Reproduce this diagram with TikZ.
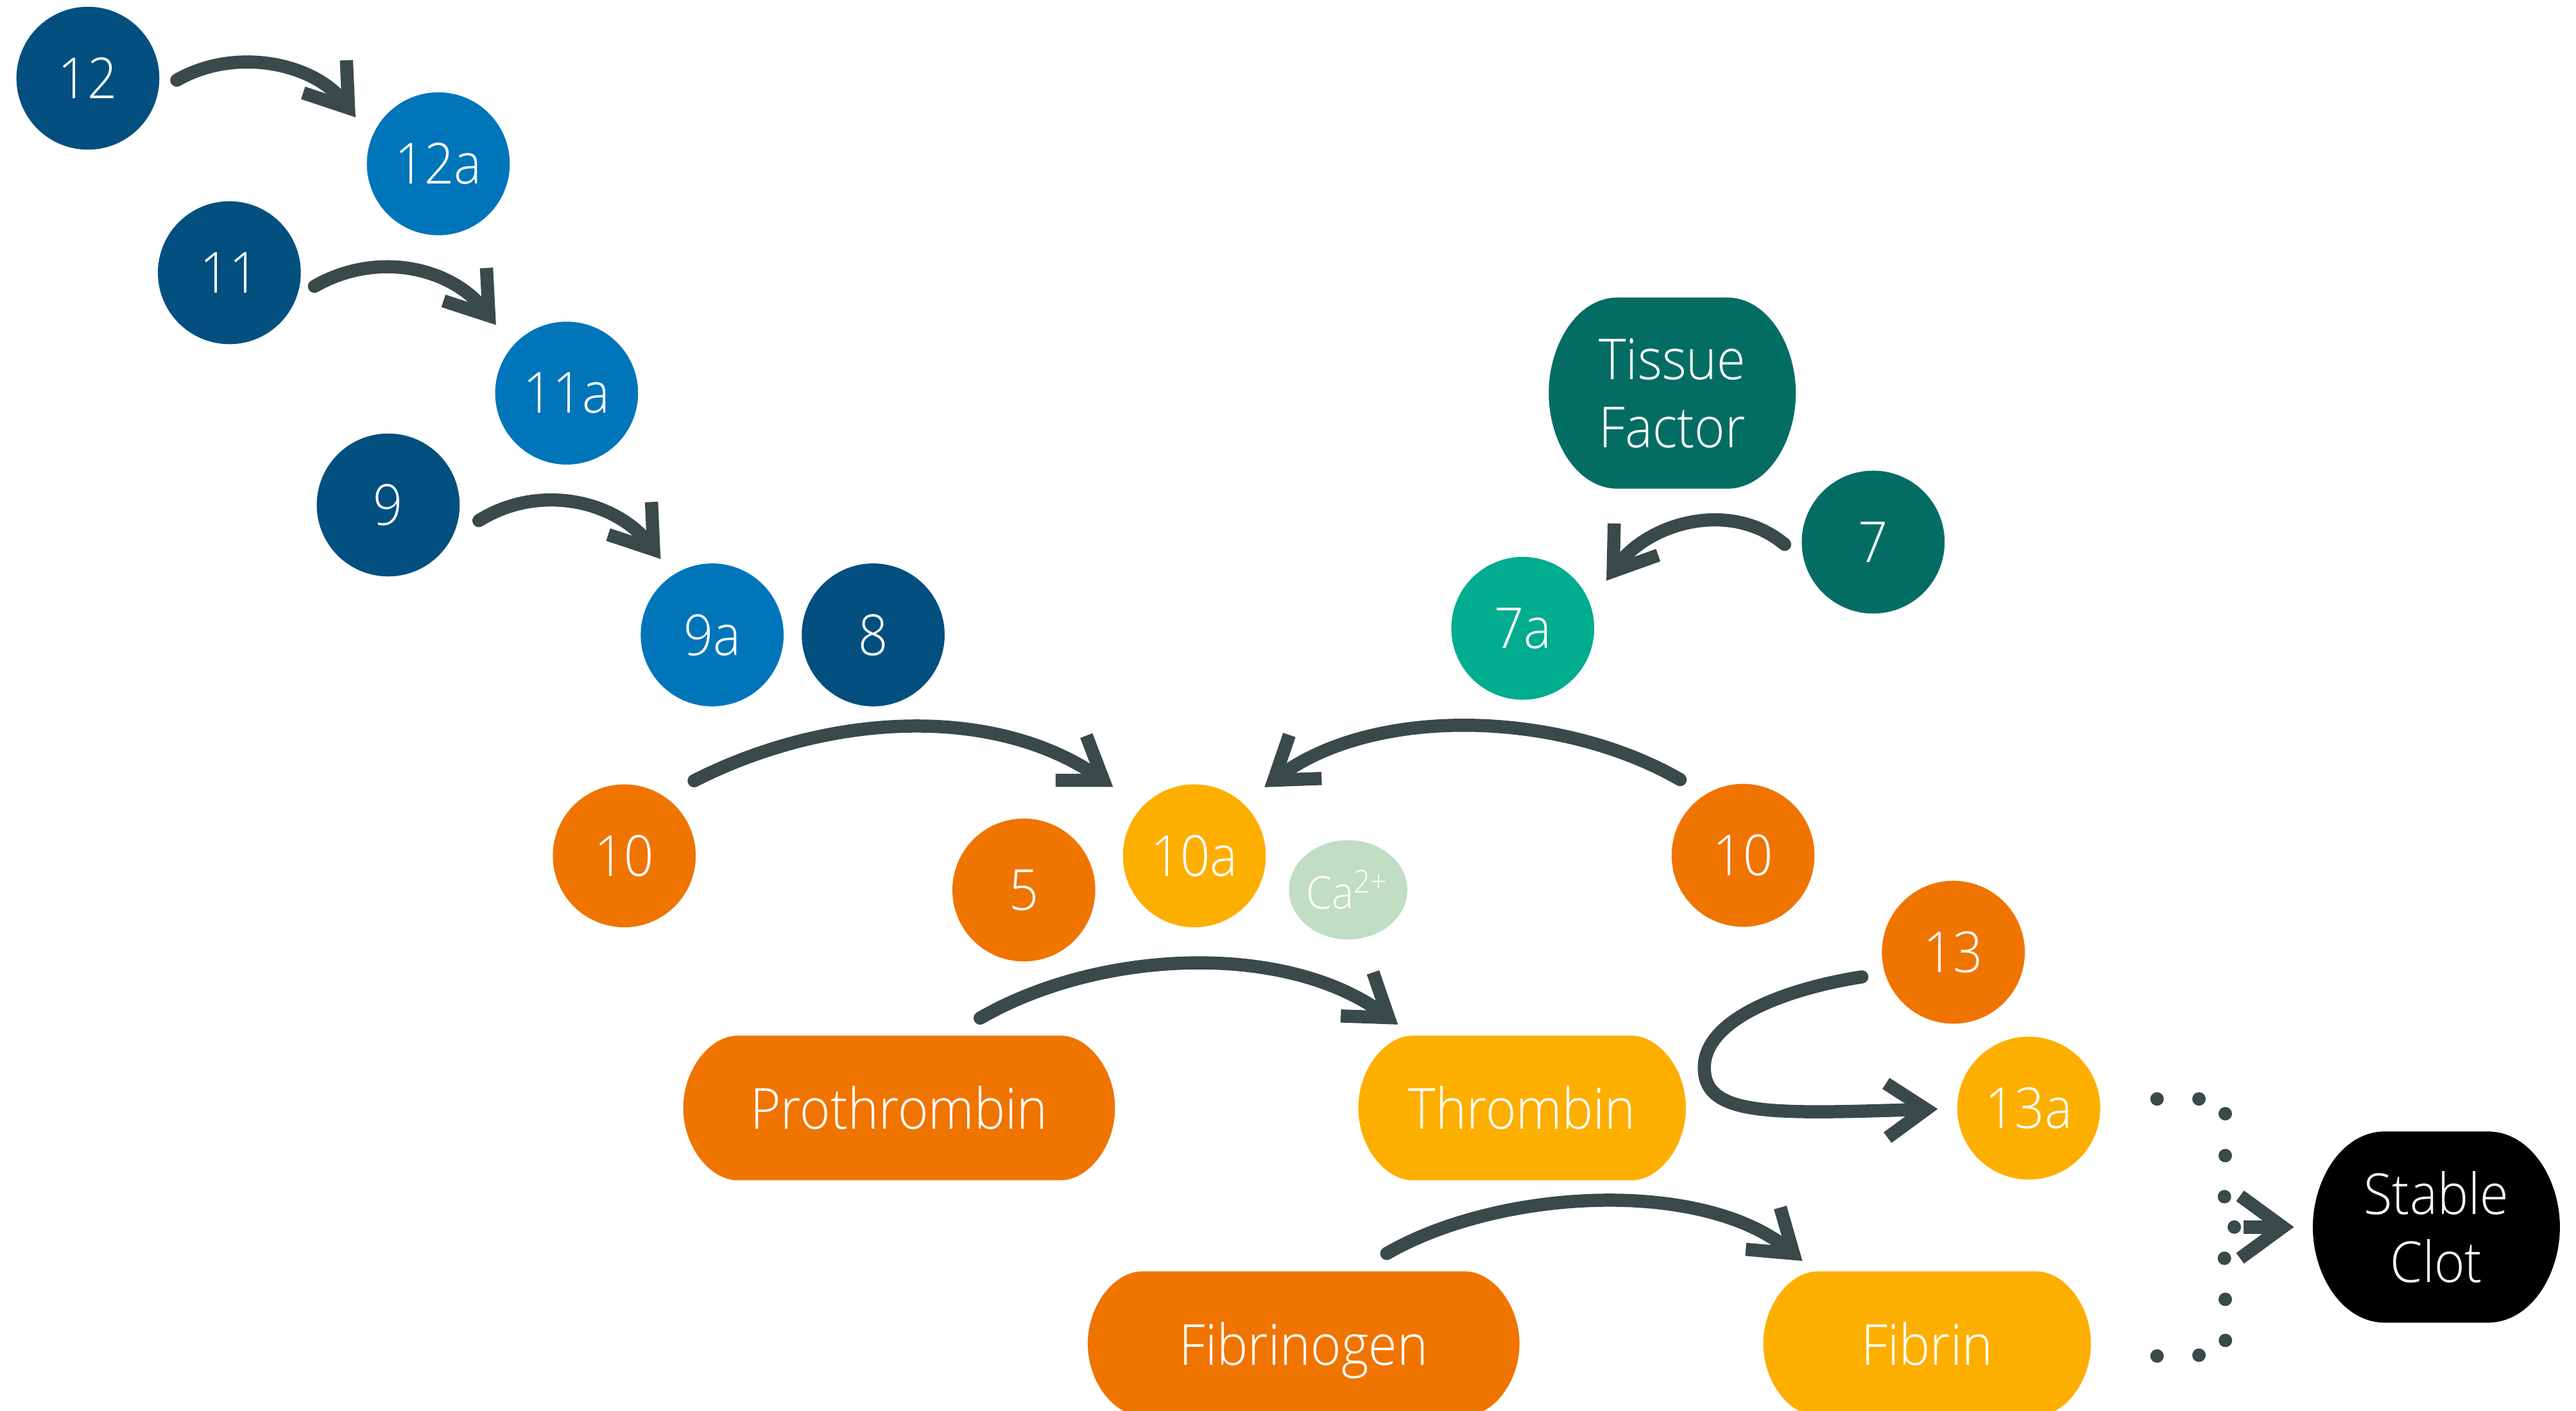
\documentclass[tikz,border=0pt]{standalone}
\usepackage{fontspec}
\IfFontExistsTF{Open Sans Light}
  {\setmainfont{Open Sans Light}[FakeStretch=0.92]}
  {\setmainfont{Open Sans}[FakeStretch=0.92]}
\usetikzlibrary{arrows.meta,calc,shapes.geometric,backgrounds}

\definecolor{navy}{HTML}{024F80}
\definecolor{ocean}{HTML}{0075BA}
\definecolor{pine}{HTML}{036D64}
\definecolor{jade}{HTML}{02AC8E}
\definecolor{tangerine}{HTML}{F07400}
\definecolor{amber}{HTML}{FDAF00}
\definecolor{mint}{HTML}{C1DDC4}
\definecolor{slate}{HTML}{3A4949}

% Soft barrel-shaped fill behind a rectangular node:
% #1 node, #2 colour, #3 horizontal inset of the flat edges, #4 half height,
% #5 pull of the corner controls along the flat edge, #6 along the side
\newcommand{\blobfill}[6]{%
  \fill[#2] ($(#1.north west)+(#3,0)$) -- ($(#1.north east)+(-#3,0)$)
    .. controls +(#5*#3,0) and +(0,-#6*#4) .. (#1.east)
    .. controls +(0,#6*#4) and +(#5*#3,0) .. ($(#1.south east)+(-#3,0)$)
    -- ($(#1.south west)+(#3,0)$)
    .. controls +(-#5*#3,0) and +(0,#6*#4) .. (#1.west)
    .. controls +(0,-#6*#4) and +(-#5*#3,0) .. ($(#1.north west)+(#3,0)$)
    -- cycle;}

\begin{document}
\begin{tikzpicture}[x=0.1mm,y=-0.1mm,
  lbl/.style={text=white,font=\fontsize{9.8}{11.8}\selectfont,inner sep=0pt},
  factor/.style={lbl,circle,minimum size=8.7mm,fill=#1},
  blobnode/.style={lbl,rectangle,align=center},
  brush/.style={draw=slate,line width=0.8mm,line cap=round,
    -{Straight Barb[length=2.4mm,width=3.3mm]}},
  clotarrow/.style={draw=slate,line width=0.8mm,
    -{Straight Barb[length=2.6mm,width=3.8mm]}},
]
\useasboundingbox (0,0) rectangle (1568,858.6);

% intrinsic pathway
\node[factor=navy]  (f12)  at (53.5,47.6)   {12};
\node[factor=ocean] (f12a) at (266.8,99.7)  {12a};
\node[factor=navy]  (f11)  at (139.6,166)   {11};
\node[factor=ocean] (f11a) at (344.9,239.3) {11a};
\node[factor=navy]  (f9)   at (236.3,307.4) {9};
\node[factor=ocean] (f9a)  at (433.5,386.5) {9a};
\node[factor=navy]  (f8)   at (531.5,386.5) {8};

% extrinsic pathway
\node[blobnode,minimum width=14.9mm,minimum height=11.5mm] (tf) at (1017.9,239.3) {Tissue\\Factor};
\node[factor=pine] (f7)  at (1140.2,330)  {7};
\node[factor=jade] (f7a) at (926.9,382.5) {7a};

% common pathway
\node[factor=tangerine] (f10l) at (380,521)     {10};
\node[factor=tangerine] (f5)   at (623.2,541.8) {5};
\node[factor=amber]     (f10a) at (727,521)     {10a};
\node[lbl,ellipse,fill=mint,minimum width=6.84mm,minimum height=6.04mm,
      font=\fontsize{7.8}{9}\selectfont] (ca) at (820.6,541.7) {Ca\textsuperscript{2+}};
\node[factor=tangerine] (f10r) at (1061,520.7)  {10};
\node[factor=tangerine] (f13)  at (1189,579.7)  {13};
\node[factor=amber]     (f13a) at (1234.9,674.6) {13a};

\node[blobnode,minimum width=26.14mm,minimum height=8.66mm] (pro) at (547.3,674.5) {Prothrombin};
\node[blobnode,minimum width=19.8mm,minimum height=8.66mm]  (thr) at (926.5,674.5) {Thrombin};
\node[blobnode,minimum width=26.14mm,minimum height=8.66mm,text depth=0pt] (fbg) at (793.5,818) {Fibrinogen};
\node[blobnode,minimum width=19.8mm,minimum height=8.66mm]  (fbn) at (1173,818) {Fibrin};
\node[blobnode,minimum width=14.9mm,minimum height=11.5mm] (clot) at (1483,747) {Stable\\Clot};

\begin{scope}[on background layer]
  \blobfill{tf}{pine}{42}{57.5}{0.6}{0.5}
  \blobfill{pro}{tangerine}{33}{43.3}{0.5}{0.55}
  \blobfill{thr}{amber}{33}{43.3}{0.5}{0.55}
  \blobfill{fbg}{tangerine}{33}{43.3}{0.5}{0.55}
  \blobfill{fbn}{amber}{33}{43.3}{0.5}{0.55}
  \blobfill{clot}{black}{44}{57.5}{0.6}{0.5}
\end{scope}

% activation arrows
\draw[brush] ($(f12)+(54.1,1.2)$) .. controls +(35.8,-20.65) and +(-24.9,-33) .. ($(f12a)+(-50.4,-28.3)$);
\draw[brush] ($(f11)+(51.8,8.3)$) .. controls +(38.2,-22) and +(-26.8,-35) .. ($(f11a)+(-43,-41.5)$);
\draw[brush] ($(f9)+(55.2,9.5)$) .. controls +(37.3,-23.3) and +(-26.5,-35.1) .. ($(f9a)+(-31.4,-46.2)$);
\draw[brush] ($(f10l)+(42.5,-45.7)$) .. controls +(79.9,-40.7) and +(-73.9,-50.8) .. ($(f10a)+(-49.5,-42)$);
\draw[brush] ($(f10r)+(-38.3,-46.1)$) .. controls +(-72.7,-42) and +(67.4,-50.1) .. ($(f10a)+(42.7,-41.8)$);
\draw[brush] ($(f7)+(-53.9,1.4)$) .. controls +(-33.2,-27.8) and +(25.3,-35.1) .. ($(f7a)+(50.9,-29)$);
\draw[brush] ($(pro)+(49.3,-54.7)$) .. controls +(73.3,-42.3) and +(-68,-50.3) .. ($(thr)+(-75.6,-50.8)$);
\draw[brush] ($(fbg)+(50.6,-54.9)$) .. controls +(68.6,-39.6) and +(-61.1,-50.4) .. ($(fbn)+(-75.9,-50.4)$);
\coordinate (loop13) at (1037.4,650);
\draw[brush] ($(f13)+(-55.7,15)$) .. controls +(-45,7) and +(0,-30) .. (loop13)
  .. controls +(0,30) and +(-100,3) .. ($(f13a)+(-55.4,0.5)$);

% dotted bracket gathering 13a and fibrin into the clot
\foreach \x/\y in {1313/669, 1338.5/669, 1354.5/678, 1354.5/703.5, 1354/728.5,
                   1360/747, 1354/766, 1354.5/791, 1354.6/816, 1338.5/825, 1313/825.5}
  \fill[slate] (\x,\y) circle[radius=4.1];
\draw[clotarrow] ($(clot.west)+(-42,0)$) -- ($(clot.west)+(-11.5,0)$);
\end{tikzpicture}
\end{document}
